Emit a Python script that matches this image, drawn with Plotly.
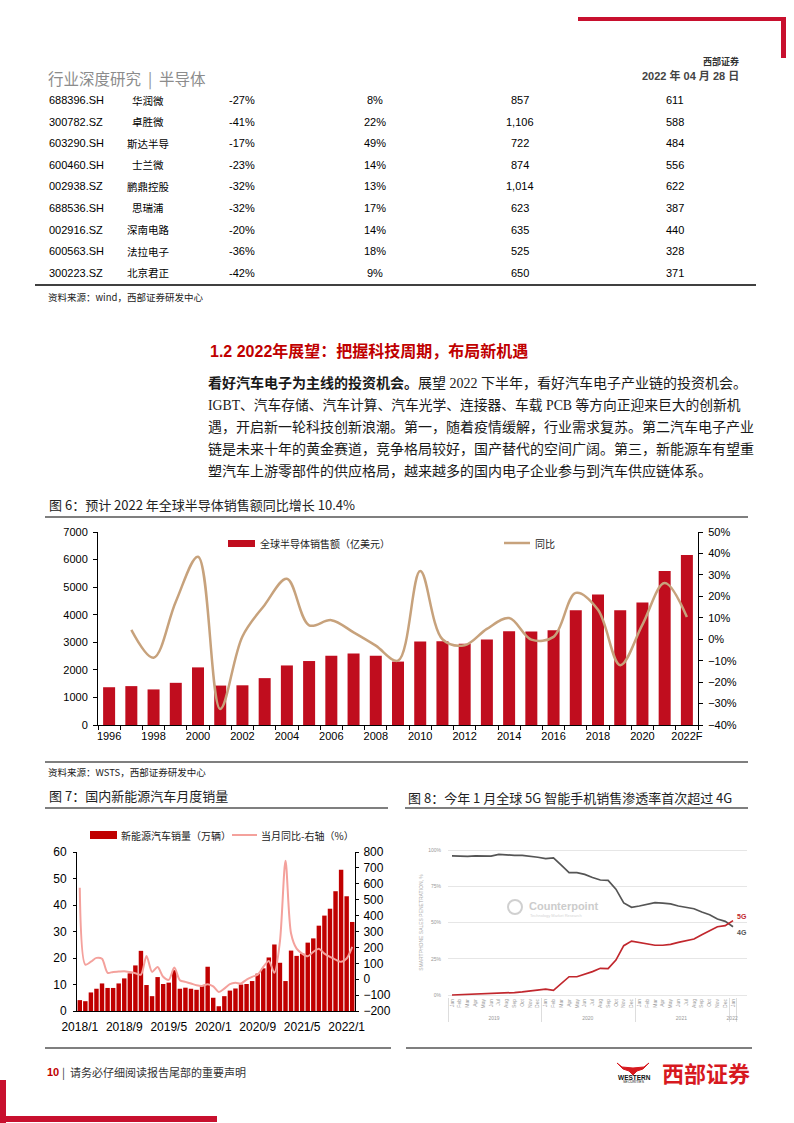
import plotly.graph_objects as go

W, H = 794, 1123
def X(px): return px / W
def Y(py): return 1 - py / H

CJK = "Noto Sans CJK SC"
SANS = "Liberation Sans, Arial, Noto Sans CJK SC"
SERIF = "Liberation Serif, Noto Sans CJK SC"
RED = "#C00D1E"

# ---------------- data ----------------
tbl_codes = ["688396.SH", "300782.SZ", "603290.SH", "600460.SH", "002938.SZ",
             "688536.SH", "002916.SZ", "600563.SH", "300223.SZ"]
tbl_names = ["华润微", "卓胜微", "斯达半导", "士兰微", "鹏鼎控股", "思瑞浦", "深南电路", "法拉电子", "北京君正"]
tbl_col3 = ["-27%", "-41%", "-17%", "-23%", "-32%", "-32%", "-20%", "-36%", "-42%"]
tbl_col4 = ["8%", "22%", "49%", "14%", "13%", "17%", "14%", "18%", "9%"]
tbl_col5 = ["857", "1,106", "722", "874", "1,014", "623", "635", "525", "650"]
tbl_col6 = ["611", "588", "484", "556", "622", "387", "440", "328", "371"]

para_lines = [
    "<b>看好汽车电子为主线的投资机会。</b>展望 2022 下半年，看好汽车电子产业链的投资机会。",
    "IGBT、汽车存储、汽车计算、汽车光学、连接器、车载 PCB 等方向正迎来巨大的创新机",
    "遇，开启新一轮科技创新浪潮。第一，随着疫情缓解，行业需求复苏。第二汽车电子产业",
    "链是未来十年的黄金赛道，竞争格局较好，国产替代的空间广阔。第三，新能源车有望重",
    "塑汽车上游零部件的供应格局，越来越多的国内电子企业参与到汽车供应链体系。",
]

# Fig 6
semi_years = ["1996", "1997", "1998", "1999", "2000", "2001", "2002", "2003", "2004", "2005",
              "2006", "2007", "2008", "2009", "2010", "2011", "2012", "2013", "2014", "2015",
              "2016", "2017", "2018", "2019", "2020", "2021", "2022F"]
semi_sales = [1370, 1410, 1290, 1530, 2090, 1430, 1440, 1700, 2160, 2320,
              2510, 2590, 2510, 2300, 3030, 3040, 2950, 3100, 3400, 3390,
              3440, 4160, 4730, 4160, 4440, 5590, 6170]
semi_yoy = [None, 4.4, -8.6, 17.5, 38.5, -32.5, 1.3, 16.0, 28.2, 6.5,
            8.9, 3.2, -3.0, -10.0, 31.8, 0.0, -2.8, 4.8, 9.9, -0.2,
            1.1, 21.6, 13.7, -12.1, 6.8, 26.2, 10.4]

# Fig 7
nev_months = [f"{y}/{m}" for y in range(2018, 2023) for m in range(1, 13)][:50]
nev_sales = [4.1, 3.7, 7.0, 8.4, 10.4, 8.7, 8.7, 10.4, 12.3, 14.2, 17.2, 22.7,
             9.8, 5.6, 12.8, 10.2, 10.7, 15.4, 8.4, 8.8, 8.4, 8.0, 9.7, 16.7,
             5.0, 1.8, 5.6, 7.7, 8.5, 10.0, 10.2, 11.3, 14.1, 16.1, 20.2, 25.1,
             18.2, 11.3, 22.8, 20.8, 21.7, 25.8, 27.4, 32.2, 36.0, 38.6, 45.2, 53.3,
             43.3, 33.6]
nev_yoy = [575, 92, 110, 134, 128, 40, 46, 48, 50, 45, 38, 29,
           146, 46, 77, 15, -4, 73, -6, -17, -27, -38, -42, -31,
           -45, -80, -59, -31, -23, -27, -2, 15, 29, 77, 115, 40,
           238, 745, 287, 192, 161, 144, 172, 192, 161, 140, 123, 109,
           130, 203]
nev_ticks = ["2018/1", "2018/9", "2019/5", "2020/1", "2020/9", "2021/5", "2022/1"]

# Fig 8
cp_years = ["2019"] * 12 + ["2020"] * 12 + ["2021"] * 12 + ["2022"]
cp_months = ["Jan", "Feb", "Mar", "Apr", "May", "Jun", "Jul", "Aug", "Sep", "Oct", "Nov", "Dec"] * 3 + ["Jan"]
pen_4g = [95.9, 95.6, 95.6, 96.0, 95.8, 95.8, 97.0, 96.5, 96.3, 96.3, 95.8, 95.0,
          94.0, 94.5, 89.5, 84.4, 84.4, 83.2, 81.0, 79.3, 79.0, 73.0, 63.5, 60.5,
          61.4, 62.3, 63.7, 63.4, 62.8, 61.4, 60.5, 59.5, 57.2, 55.4, 52.4, 50.8,
          47.1]
pen_5g = [0.0, 0.2, 0.3, 0.5, 0.8, 1.0, 1.0, 1.5, 1.7, 2.2, 2.8, 3.4,
          4.1, 3.2, 7.6, 12.6, 12.6, 14.3, 16.1, 18.4, 18.2, 24.1, 34.0, 37.2,
          36.3, 35.2, 34.3, 34.3, 34.9, 36.3, 37.5, 38.6, 41.6, 44.4, 47.1, 47.8,
          51.3]

# ---------------- figure ----------------
fig = go.Figure()

fig.add_trace(go.Bar(x=semi_years, y=semi_sales, marker=dict(color=RED, line=dict(width=0)),
                     width=0.54, xaxis="x", yaxis="y", name="全球半导体销售额（亿美元）"))
fig.add_trace(go.Scatter(x=semi_years, y=semi_yoy, mode="lines", xaxis="x", yaxis="y2",
                         line=dict(color="#C7A27C", width=2.5, shape="spline", smoothing=1.0),
                         name="同比"))

fig.add_trace(go.Bar(x=nev_months, y=nev_sales, marker=dict(color="#C00000", line=dict(width=0)),
                     width=0.8, xaxis="x3", yaxis="y3", name="新能源汽车销量（万辆）"))
fig.add_trace(go.Scatter(x=nev_months, y=nev_yoy, mode="lines", xaxis="x3", yaxis="y4",
                         line=dict(color="#F4A19C", width=2, shape="spline", smoothing=0.8),
                         name="当月同比-右轴（%）"))

fig.add_trace(go.Scatter(x=[cp_years, cp_months], y=pen_4g, mode="lines", xaxis="x5", yaxis="y5",
                         line=dict(color="#555555", width=1.7), name="4G"))
fig.add_trace(go.Scatter(x=[cp_years, cp_months], y=pen_5g, mode="lines", xaxis="x5", yaxis="y5",
                         line=dict(color="#C1272D", width=1.7), name="5G"))

tick_font = dict(family=SANS, size=11, color="black")
axis_common = dict(showline=True, linecolor="black", linewidth=1, showgrid=False, zeroline=False,
                   tickcolor="black", fixedrange=True, automargin=False)

layout = dict(
    template="none",
    width=W, height=H, autosize=False,
    margin=dict(l=0, r=0, t=0, b=0, pad=0, autoexpand=False),
    paper_bgcolor="white", plot_bgcolor="white",
    showlegend=False,
    xaxis=dict(domain=[X(98), X(698)], anchor="y", type="category", range=[-0.5, 26.5],
               tickvals=semi_years, tickangle=0,
               ticktext=[s if i % 2 == 0 else "" for i, s in enumerate(semi_years)],
               tickson="boundaries", ticks="outside", ticklen=4, tickfont=tick_font,
               ticklabelstandoff=1, **axis_common),
    yaxis=dict(domain=[Y(725), Y(532)], anchor="x", range=[0, 7000], dtick=1000,
               ticks="outside", ticklen=4, tickfont=tick_font, ticklabelstandoff=3, **axis_common),
    yaxis2=dict(overlaying="y", side="right", anchor="x", range=[-40, 50], dtick=10, ticksuffix="%",
                ticks="outside", ticklen=4, tickfont=tick_font, ticklabelstandoff=3, **axis_common),
    xaxis3=dict(domain=[X(77), X(355)], anchor="y3", type="category", range=[-0.5, 49.5],
                tickvals=nev_ticks, ticks="", tickangle=0,
                tickfont=dict(family=SANS, size=12, color="black"),
                ticklabelstandoff=5, **axis_common),
    yaxis3=dict(domain=[Y(1011), Y(852)], anchor="x3", range=[0, 60], dtick=10,
                ticks="outside", ticklen=3, tickfont=dict(family=SANS, size=12, color="black"),
                ticklabelstandoff=4, **axis_common),
    yaxis4=dict(overlaying="y3", side="right", anchor="x3", range=[-200, 800], dtick=100,
                ticks="outside", ticklen=3, tickfont=dict(family=SANS, size=12, color="black"),
                ticklabelstandoff=2, **axis_common),
    xaxis5=dict(domain=[X(448), X(747)], anchor="y5", type="multicategory", range=[-0.51, 37.79],
                tickangle=-90, tickfont=dict(family=SANS, size=5, color="#999999"),
                showdividers=True, dividercolor="#dddddd", dividerwidth=1,
                showline=False, showgrid=False, zeroline=False, ticks="", fixedrange=True,
                automargin=False),
    yaxis5=dict(domain=[Y(997), Y(848)], anchor="x5", range=[-1.38, 101.38],
                tickvals=[0, 25, 50, 75, 100], ticktext=["0%", "25%", "50%", "75%", "100%"],
                tickfont=dict(family=SANS, size=5, color="#999999"),
                showgrid=True, gridcolor="#e6e6e6", gridwidth=1, zeroline=False, showline=False,
                ticks="", ticklabelstandoff=6, fixedrange=True, automargin=False,
                title=dict(text="SMARTPHONE SALES PENETRATION, %", standoff=4,
                           font=dict(family=SANS, size=5, color="#aaaaaa"))),
)
fig.update_layout(**layout)

ann = []
def txt(x, y, s, size, color="black", family=CJK, xanchor="left", yanchor="middle"):
    ann.append(dict(x=X(x), y=Y(y), xref="paper", yref="paper", text=s, showarrow=False,
                    xanchor=xanchor, yanchor=yanchor, font=dict(size=size, color=color, family=family)))

shapes = []
def hline(x0, x1, y, color="black", width=1.2):
    shapes.append(dict(type="line", xref="paper", yref="paper", x0=X(x0), x1=X(x1), y0=Y(y), y1=Y(y),
                       line=dict(color=color, width=width)))
def rect(x0, y0, x1, y1, color):
    shapes.append(dict(type="rect", xref="paper", yref="paper", x0=X(x0), x1=X(x1), y0=Y(y1), y1=Y(y0),
                       fillcolor=color, line=dict(width=0)))

NB = "\u00a0"
# header
rect(578, 17, 786, 21, "#C8102E")
rect(781, 17, 786, 58, "#C8102E")
txt(741, 62, "<b>西部证券</b>", 9, "#333333", CJK, "right")
txt(741, 76, "<b>2022 年 04 月 28 日</b>", 11, "#444444", SANS, "right")
txt(46, 78, f"行业深度研究{NB}{NB}|{NB}{NB}半导体", 15.5, "#8c8c8c", CJK)

# table
row_y0, row_dy = 100, 21.6
for i in range(len(tbl_codes)):
    yy = row_y0 + i * row_dy
    txt(76, yy, tbl_codes[i], 11, "black", SANS, "center")
    txt(148, yy, tbl_names[i], 10.5, "black", CJK, "center")
    txt(242, yy, tbl_col3[i], 11, "black", SANS, "center")
    txt(375, yy, tbl_col4[i], 11, "black", SANS, "center")
    txt(520, yy, tbl_col5[i], 11, "black", SANS, "center")
    txt(675, yy, tbl_col6[i], 11, "black", SANS, "center")
hline(35, 756, 285, width=1.5)
txt(46, 297, "资料来源：wind，西部证券研发中心", 9.5, "#222222", CJK)

# section heading + paragraph
txt(208, 351, "<b>1.2 2022年展望：把握科技周期，布局新机遇</b>", 16, "#C00000", SANS)
para_sizes = [14, 13.75, 14, 14, 14]
for i, line in enumerate(para_lines):
    txt(206, 383 + i * 21.9, line, para_sizes[i], "#1a1a1a", SERIF)

# figure 6 frame
txt(47, 504, "图 6：预计 2022 年全球半导体销售额同比增长 10.4%", 13, "#222222", CJK)
hline(45, 748, 517)
hline(45, 748, 762)
rect(228, 540, 255, 547, RED)
txt(258, 543, "全球半导体销售额（亿美元）", 10, "#222222", CJK)
hline(504, 530, 543, "#C7A27C", 2.5)
txt(533, 543, "同比", 10, "#222222", CJK)
txt(46, 772, "资料来源：WSTS，西部证券研发中心", 9.5, "#222222", CJK)

# figure 7 frame
txt(47, 795, "图 7：国内新能源汽车月度销量", 13, "#222222", CJK)
hline(45, 388, 808)
rect(90, 831, 117, 839, "#C00000")
txt(119, 835, "新能源汽车销量（万辆）", 10, "#222222", CJK)
hline(232, 257, 835, "#F4A19C", 2)
txt(259, 835, "当月同比-右轴（%）", 10, "#222222", CJK)
hline(45, 391, 1048)

# figure 8 frame
txt(406, 797, "图 8：今年 1 月全球 5G 智能手机销售渗透率首次超过 4G", 13, "#222222", CJK)
hline(405, 748, 808)
hline(406, 752, 1048)
txt(735, 916, "<b>5G</b>", 7, "#C1272D", SANS)
txt(735, 932, "<b>4G</b>", 7, "#555555", SANS)
shapes.append(dict(type="circle", xref="paper", yref="paper", x0=X(508), x1=X(522), y0=Y(914), y1=Y(900),
                   line=dict(color="#d0d0d0", width=2)))
txt(527, 906, "<b>Counterpoint</b>", 11, "#cccccc", SANS)
txt(528, 915, "Technology Market Research", 4, "#d5d5d5", SANS)

# footer
txt(45, 1072, "<b>10</b>", 11, "#C00000", SANS)
txt(60, 1072, f"|{NB}{NB}请务必仔细阅读报告尾部的重要声明", 11, "#333333", CJK)
txt(752, 1072, "<b>西部证券</b>", 22, "#D7191F", CJK, "right")
def pth(points):
    s = "M " + " L ".join(f"{X(a):.5f},{Y(b):.5f}" for a, b in points) + " Z"
    return s
shapes.append(dict(type="path", xref="paper", yref="paper",
                   path=pth([(617, 1063), (623, 1069), (629, 1071), (633, 1075), (637, 1071),
                             (643, 1069), (649, 1063), (644, 1067), (633, 1068), (622, 1067)]),
                   fillcolor="#D7191F", line=dict(color="#D7191F", width=1)))
txt(634, 1077, "<b>WESTERN</b>", 6.5, "#111111", SANS, "center")
txt(634, 1082, "SECURITIES", 3.5, "#111111", SANS, "center")
rect(0, 1080, 6, 1123, "#C8102E")
rect(0, 1116, 217, 1122, "#C8102E")

fig.update_layout(annotations=ann, shapes=shapes)
fig.write_html("out.html")
